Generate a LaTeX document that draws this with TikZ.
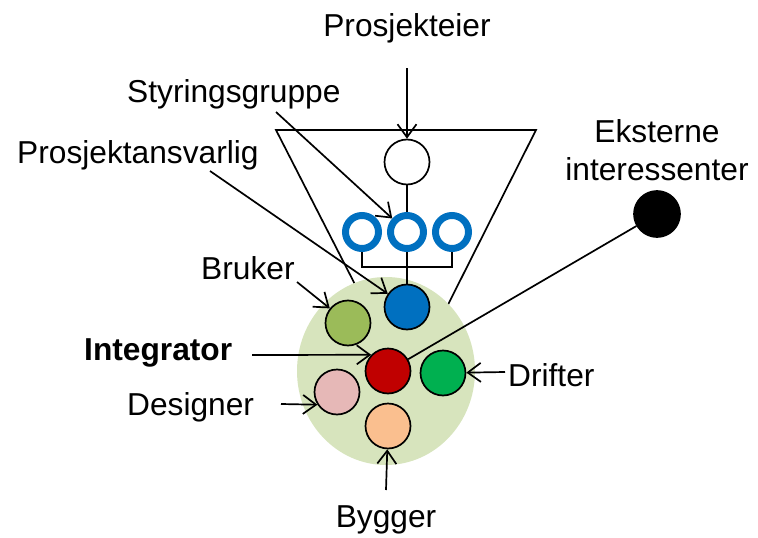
\documentclass[tikz,border=0pt]{standalone}
\usepackage{fontspec}
\setmainfont{Liberation Sans}
\usepackage{tikz}
\usetikzlibrary{positioning}
\usetikzlibrary{calc}
\usetikzlibrary{shapes.geometric}
\usetikzlibrary{arrows.meta}

\definecolor{teamgreen}{RGB}{215,228,189}
\definecolor{brukergreen}{RGB}{155,187,89}
\definecolor{ansvarligblue}{RGB}{0,112,192}
\definecolor{ringblue}{RGB}{0,112,192}
\definecolor{integratorred}{RGB}{192,0,0}
\definecolor{driftergreen}{RGB}{0,176,80}
\definecolor{designerpink}{RGB}{230,184,183}
\definecolor{byggerorange}{RGB}{250,191,143}

\begin{document}
\begin{tikzpicture}[x=1pt, y=-1pt]
    \useasboundingbox (0,0) rectangle (758,538);

    \def\rad{45pt}
  \tikzset{role common/.style={draw, circle, line width=1.7pt, minimum size=\rad, inner sep=0pt}}
  \tikzset{role node/.style={role common, fill=#1}}
  \tikzset{ring node/.style={draw=ringblue, circle, line width=7pt, minimum size=33pt, inner sep=0pt}}
  \tikzset{label text/.style={font=\fontsize{31.7}{38}\selectfont, inner sep=0pt}}
  \tikzset{link/.style={line width=1.7pt}}
  \tikzset{pointer/.style={link, -{Straight Barb[length=13pt,width=19pt]}}}

  \coordinate (origin) at (388,371);

  % frame behind the team
  \coordinate (tl) at (276,130);
  \coordinate (tr) at (536,130);
  \coordinate (apex) at (407,386);
  \draw[link] (tl) -- (tr) -- (apex) -- cycle;

  \node[ellipse, fill=teamgreen, minimum width=178pt, minimum height=188pt] (team) at ($(origin)+(-2,0)$) {};
  %
  \node[role node=integratorred] (integrator) at (origin) {};
  \node[role node=ansvarligblue] (ansvarlig) at ($(origin)+(19,-64)$) {};
  \node[role node=brukergreen] (bruker) at ($(origin)+(-40,-48)$) {};
  \node[role node=driftergreen] (drifter) at ($(origin)+(55,2)$) {};
  \node[role node=designerpink] (designer) at ($(origin)+(-51,21)$) {};
  \node[role node=byggerorange] (bygger) at ($(origin)+(0,55)$) {};
  %
  \node[role common, fill=white] (eier) at (407,162) {};
  \node[ring node] (ring2) at (407,232) {};
  \node[ring node, left=5pt of ring2] (ring1) {};
  \node[ring node, right=5pt of ring2] (ring3) {};
  \node[role common, fill=black, minimum size=46pt] (ekstern) at (657,214) {};
  %
  \node[label text, anchor=base] (eierlabel) at (407,36) {Prosjekteier};
  \node[label text, anchor=base west] (styrlabel) at (127,102) {Styringsgruppe};
  \node[label text, anchor=base west] (ansvlabel) at (17,163) {Prosjektansvarlig};
  \node[label text, anchor=base west] (brukerlabel) at (201,279) {Bruker};
  \node[label text, anchor=base west, font=\fontsize{31.7}{38}\selectfont\bfseries] (integlabel) at (84,360) {Integrator};
  \node[label text, anchor=base west] (designlabel) at (127,415) {Designer};
  \node[label text, anchor=base west] (driftlabel) at (508,386) {Drifter};
  \node[label text, anchor=base] (bygglabel) at (386,527) {Bygger};
  \node[label text, anchor=base, align=center] (ekstlabel) at (657,180) {Eksterne\\interessenter};
  %
  \coordinate (eiertail) at (407,68);
  \coordinate (styrtail) at (276,112);
  \coordinate (ansvtail) at (210,171);
  \coordinate (brukertail) at (297,282);
  \coordinate (integtail) at (252,355);
  \coordinate (designtail) at (281,404);
  \coordinate (drifttail) at (505,372);
  \coordinate (byggtail) at (386,490);
  \coordinate (bracket) at (407,267);
  %
  \draw[pointer] (eiertail) to (eier);
  \draw[pointer] (styrtail) to (ring2);
  \draw[pointer] (ansvtail) to (ansvarlig);
  \draw[pointer] (brukertail) to (bruker);
  \draw[pointer] (integtail) to (integrator.136);
  \draw[pointer] (designtail) to (designer.213);
  \draw[pointer] (drifttail) to (drifter);
  \draw[pointer] (byggtail) to (bygger);
  %
  \draw[link] (eier) to (ring2);
  \draw[link] (ring1) |- (bracket) -| (ring3);
  \draw[link] (ring2) to (ansvarlig);
  \draw[link] (ekstern) to (integrator);
\end{tikzpicture}
\end{document}
